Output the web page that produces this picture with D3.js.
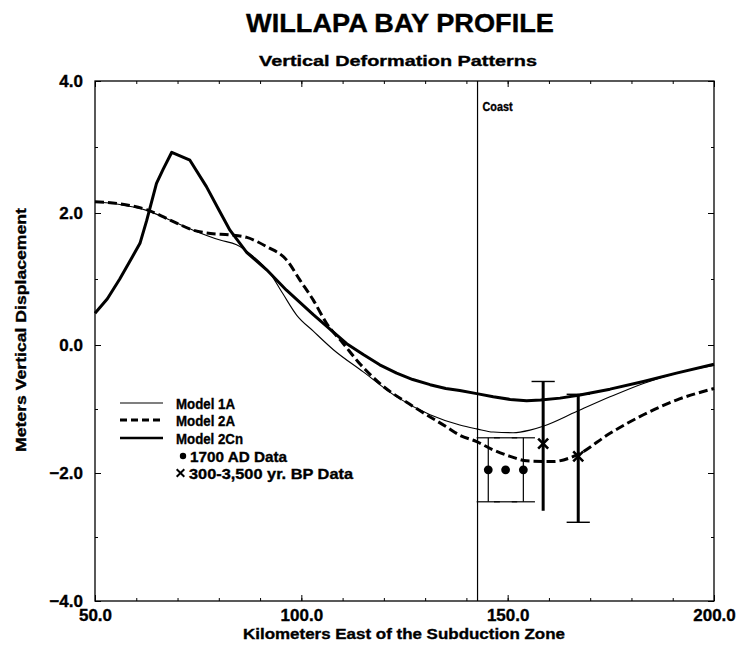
<!DOCTYPE html>
<html>
<head>
<meta charset="utf-8">
<script src="https://cdn.jsdelivr.net/npm/d3@7"></script>
<style>
  html, body { margin: 0; padding: 0; background: #fff; }
  svg { display: block; }
  text { font-family: "Liberation Sans", Arial, Helvetica, sans-serif; font-weight: bold; fill: #000;
         stroke: #000; stroke-width: 0.35px; }
</style>
</head>
<body>
<svg id="chart" width="740" height="649"></svg>
<script>
// Vertical deformation profiles across Willapa Bay: [km east of subduction zone, metres]
const model1A = [
  [50, 2.17], [56, 2.13], [62.5, 2.04], [69, 1.87], [73.8, 1.74], [80.3, 1.59],
  [84.3, 1.52], [88.4, 1.34], [92.4, 1.09], [95.5, 0.78], [98.9, 0.45], [102.9, 0.21],
  [107.7, -0.07], [115, -0.42], [123.1, -0.81], [131.2, -1.09], [138.4, -1.25],
  [142.5, -1.31], [146.5, -1.36], [151.3, -1.37], [155.4, -1.33], [158.6, -1.27],
  [166.7, -1.04], [174.8, -0.81], [182.9, -0.60], [190.9, -0.44], [200, -0.32]
];
const model2A = [
  [50, 2.17], [56, 2.14], [62.5, 2.05], [69, 1.87], [73.8, 1.74], [78, 1.69],
  [82.7, 1.67], [86.8, 1.63], [91.6, 1.49], [96.4, 1.29], [99.7, 0.98], [102.9, 0.68],
  [106.1, 0.33], [110.2, 0.02], [114, -0.28], [119, -0.60], [127.1, -0.96],
  [135.2, -1.28], [138.4, -1.41], [142.5, -1.51], [146.5, -1.64], [150.6, -1.74],
  [154.6, -1.81], [161, -1.82], [166.7, -1.72], [174.8, -1.38], [182.9, -1.09],
  [190.9, -0.86], [200, -0.68]
];
const model2Cn = [
  [50, 0.48], [53, 0.70], [56, 1.00], [59, 1.33], [60.9, 1.54], [62.5, 1.88],
  [64.9, 2.45], [66.5, 2.66], [68.6, 2.92], [73, 2.80], [77, 2.40], [80, 2.05],
  [82.7, 1.74], [86.8, 1.40], [91.6, 1.14], [96.4, 0.83], [102.9, 0.46], [107.7, 0.20],
  [111, 0.02], [115, -0.15], [119, -0.31], [123.1, -0.44], [127, -0.54], [131.2, -0.62],
  [135, -0.68], [138.4, -0.71], [142.5, -0.76], [146.5, -0.81], [150.6, -0.85],
  [154.6, -0.87], [158, -0.86], [162.7, -0.83], [167.5, -0.78], [174.8, -0.69],
  [182.9, -0.57], [190.9, -0.44], [200, -0.30]
];

// Observed subsidence: 1700 AD event and older (300-3,500 yr BP) events
const adKm = [145.3, 149.5, 153.8];
const adVal = [-1.95, -1.95, -1.95];
const adHigh = [-1.45, -1.45, -1.45];
const adLow = [-2.45, -2.45, -2.45];
const adBars = [true, false, true];

const bpKm = [158.6, 167.1];
const bpVal = [-1.54, -1.74];
const bpHigh = [-0.57, -0.77];
const bpLow = [-2.59, -2.77];
const bpCapHigh = [true, true];
const bpCapLow = [false, true];

const coastKm = 142.7;

const xMajor = [50, 100, 150, 200];
const xMinor = d3.range(50, 201, 10);
const yMajor = [-4, -2, 0, 2, 4];
const yMinor = d3.range(-4, 5, 1);

const legendItems = ["Model 1A", "Model 2A", "Model 2Cn", "1700 AD Data", "300-3,500 yr. BP Data"];

const titleText = "WILLAPA BAY PROFILE";
const subtitleText = "Vertical Deformation Patterns";
const xTitle = "Kilometers East of the Subduction Zone";
const yTitle = "Meters Vertical Displacement";

// ---- layout ----
const svg = d3.select("#chart");
const L = 95, R = 714, T = 81, B = 601;

const x = d3.scaleLinear().domain([50, 200]).range([L, R]);
const y = d3.scaleLinear().domain([-4, 0, 4]).range([B, 345, T]);

svg.append("text").attr("x", 400).attr("y", 32).attr("text-anchor", "middle")
  .style("font-size", "26px").attr("textLength", 308).attr("lengthAdjust", "spacingAndGlyphs")
  .text(titleText);
svg.append("text").attr("x", 398).attr("y", 66).attr("text-anchor", "middle")
  .style("font-size", "15px").attr("textLength", 278).attr("lengthAdjust", "spacingAndGlyphs")
  .text(subtitleText);

// frame
svg.append("rect").attr("x", L).attr("y", T).attr("width", R - L).attr("height", B - T)
  .attr("fill", "none").attr("stroke", "#000").attr("stroke-width", 1.3);

// inward ticks on all four sides
function ticks(axisFn, scale, vals, size, tr) {
  const g = svg.append("g").attr("transform", tr)
    .call(axisFn(scale).tickValues(vals).tickSize(-size).tickFormat(""));
  g.select(".domain").remove();
  g.selectAll("line").attr("stroke", "#000").attr("stroke-width", 1);
  return g;
}
ticks(d3.axisBottom, x, xMinor, 3, `translate(0,${B})`);
ticks(d3.axisBottom, x, xMajor, 6, `translate(0,${B})`);
ticks(d3.axisTop, x, xMinor, 3, `translate(0,${T})`);
ticks(d3.axisTop, x, xMajor, 6, `translate(0,${T})`);
ticks(d3.axisLeft, y, yMinor, 3, `translate(${L},0)`);
ticks(d3.axisLeft, y, yMajor, 6, `translate(${L},0)`);
ticks(d3.axisRight, y, yMinor, 3, `translate(${R},0)`);
ticks(d3.axisRight, y, yMajor, 6, `translate(${R},0)`);

// tick labels
const xl = svg.append("g").attr("transform", `translate(0,${B})`)
  .call(d3.axisBottom(x).tickValues(xMajor).tickSize(0).tickPadding(8).tickFormat(d3.format(".1f")));
xl.select(".domain").remove();
xl.selectAll("text").style("font-size", "17px").attr("font-family", null);

const yl = svg.append("g").attr("transform", `translate(${L},0)`)
  .call(d3.axisLeft(y).tickValues(yMajor).tickSize(0).tickPadding(12).tickFormat(d3.format(".1f")));
yl.select(".domain").remove();
yl.selectAll("text").style("font-size", "17px").attr("font-family", null);

// axis titles
svg.append("text").attr("x", 404).attr("y", 639).attr("text-anchor", "middle")
  .style("font-size", "15px").attr("textLength", 322).attr("lengthAdjust", "spacingAndGlyphs")
  .text(xTitle);
svg.append("text").attr("transform", "translate(26,330) rotate(-90)").attr("text-anchor", "middle")
  .style("font-size", "14.5px").attr("textLength", 244).attr("lengthAdjust", "spacingAndGlyphs")
  .text(yTitle);

// coast line
svg.append("line").attr("x1", x(coastKm)).attr("x2", x(coastKm)).attr("y1", T).attr("y2", B)
  .attr("stroke", "#000").attr("stroke-width", 1.2);
svg.append("text").attr("x", x(coastKm) + 5).attr("y", 111)
  .style("font-size", "13px").attr("textLength", 30).attr("lengthAdjust", "spacingAndGlyphs")
  .text("Coast");

// model curves
const smooth = d3.line().x(d => x(d[0])).y(d => y(d[1])).curve(d3.curveMonotoneX);
const straight = d3.line().x(d => x(d[0])).y(d => y(d[1]));

svg.append("path").attr("d", smooth(model1A)).attr("fill", "none")
  .attr("stroke", "#000").attr("stroke-width", 1.1);
svg.append("path").attr("d", smooth(model2A)).attr("fill", "none")
  .attr("stroke", "#000").attr("stroke-width", 3).attr("stroke-dasharray", "9,4");
svg.append("path").attr("d", straight(model2Cn)).attr("fill", "none")
  .attr("stroke", "#000").attr("stroke-width", 3).attr("stroke-linejoin", "round");

// 1700 AD data: dots with thin error bars and caps
const capW = 11.6;
adKm.forEach((k, i) => {
  const cx = x(k);
  if (adBars[i]) {
    svg.append("line").attr("x1", cx).attr("x2", cx).attr("y1", y(adHigh[i])).attr("y2", y(adLow[i]))
      .attr("stroke", "#000").attr("stroke-width", 1.2);
  }
  [adHigh[i], adLow[i]].forEach(v => {
    svg.append("line").attr("x1", cx - capW).attr("x2", cx + capW).attr("y1", y(v)).attr("y2", y(v))
      .attr("stroke", "#000").attr("stroke-width", 1.2);
  });
  svg.append("circle").attr("cx", cx).attr("cy", y(adVal[i])).attr("r", 4.4).attr("fill", "#000");
});

// 300-3,500 yr BP data: crosses with heavy error bars
function cross(g, cx, cy, s, w) {
  g.append("path").attr("d", `M${cx - s},${cy - s}L${cx + s},${cy + s}M${cx - s},${cy + s}L${cx + s},${cy - s}`)
    .attr("stroke", "#000").attr("stroke-width", w).attr("fill", "none");
}
bpKm.forEach((k, i) => {
  const cx = x(k);
  svg.append("line").attr("x1", cx).attr("x2", cx).attr("y1", y(bpHigh[i])).attr("y2", y(bpLow[i]))
    .attr("stroke", "#000").attr("stroke-width", 3);
  if (bpCapHigh[i]) svg.append("line").attr("x1", cx - capW).attr("x2", cx + capW)
    .attr("y1", y(bpHigh[i])).attr("y2", y(bpHigh[i])).attr("stroke", "#000").attr("stroke-width", 1.4);
  if (bpCapLow[i]) svg.append("line").attr("x1", cx - capW).attr("x2", cx + capW)
    .attr("y1", y(bpLow[i])).attr("y2", y(bpLow[i])).attr("stroke", "#000").attr("stroke-width", 1.4);
  cross(svg, cx, y(bpVal[i]), 5, 2.6);
});

// legend
const lg = svg.append("g");
const rows = [403, 420, 438, 456, 473];
lg.append("line").attr("x1", 120).attr("x2", 163).attr("y1", rows[0]).attr("y2", rows[0])
  .attr("stroke", "#000").attr("stroke-width", 1.1);
lg.append("line").attr("x1", 120).attr("x2", 163).attr("y1", rows[1]).attr("y2", rows[1])
  .attr("stroke", "#000").attr("stroke-width", 3).attr("stroke-dasharray", "7,4");
lg.append("line").attr("x1", 120).attr("x2", 163).attr("y1", rows[2]).attr("y2", rows[2])
  .attr("stroke", "#000").attr("stroke-width", 2.5);
lg.append("circle").attr("cx", 183).attr("cy", rows[3]).attr("r", 3.2).attr("fill", "#000");
cross(lg, 180.5, rows[4], 3.8, 2);
const textX = [176, 176, 176, 190, 189];
const textW = [59, 59, 67, 97, 164];
legendItems.forEach((t, i) => {
  lg.append("text").attr("x", textX[i]).attr("y", rows[i] + 5.5)
    .style("font-size", "15px").attr("textLength", textW[i]).attr("lengthAdjust", "spacingAndGlyphs")
    .text(t);
});
</script>
</body>
</html>
